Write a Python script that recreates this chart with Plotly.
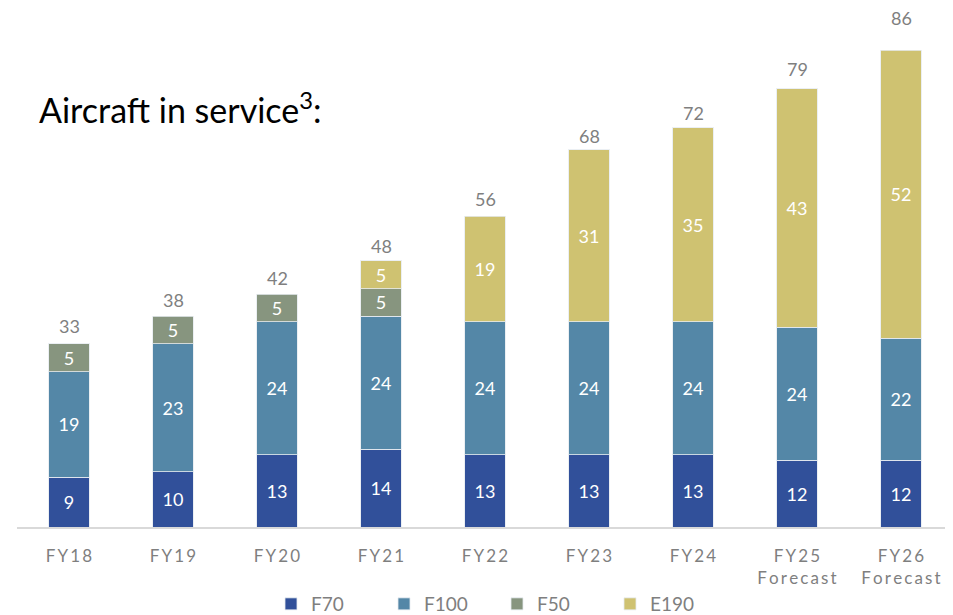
import plotly.graph_objects as go

years = ["FY18", "FY19", "FY20", "FY21", "FY22", "FY23", "FY24", "FY25\nForecast", "FY26\nForecast"]
f70 = [9, 10, 13, 14, 13, 13, 13, 12, 12]
f100 = [19, 23, 24, 24, 24, 24, 24, 24, 22]
f50 = [5, 5, 5, 5, None, None, None, None, None]
e190 = [None, None, None, 5, 19, 31, 35, 43, 52]
totals = [33, 38, 42, 48, 56, 68, 72, 79, 86]

series = [
    ("F70", f70, "#31509A"),
    ("F100", f100, "#5487A7"),
    ("F50", f50, "#87957F"),
    ("E190", e190, "#CFC271"),
]

FONT = "Lato, Carlito, Calibri, sans-serif"

# page body has an 8px margin, so the figure is drawn 8px right and down
W, H = 945, 607
L, PW = 9, 936
PH = 519
UNIT = 477 / 86  # px per aircraft
TOTAL_LABEL_GAP = [5, 3, 3, 2, 4, 1, 2, 7, 19]


def spaced(label):
    # emulate the letter spacing of the category labels
    return "<br>".join("\u2009".join(line) for line in label.split("\n"))


tick_text = [spaced(y) for y in years]
cats = list(range(len(years)))

fig = go.Figure()
for name, vals, col in series:
    fig.add_trace(go.Bar(
        name=name, x=cats, y=vals,
        marker=dict(color=col, line=dict(color="rgba(230,235,240,0.8)", width=1)),
        text=[v if v else "" for v in vals],
        textposition="inside", insidetextanchor="middle", textangle=0,
        textfont=dict(color="white", size=18, family=FONT),
        constraintext="none",
    ))

for x, t, g in zip(cats, totals, TOTAL_LABEL_GAP):
    fig.add_annotation(x=x, y=t, text=str(t), showarrow=False, yanchor="bottom", yshift=g,
                       font=dict(color="#7F7F7F", size=18, family=FONT))

fig.add_annotation(xref="paper", yref="paper", x=(37 - 8 - L) / PW, y=(PH - (108 - 8)) / PH,
                   xanchor="left", yanchor="middle", showarrow=False,
                   text="Aircraft in service<sup>3</sup>:",
                   font=dict(color="#000000", size=34, family=FONT))

fig.update_layout(
    barmode="stack",
    bargap=0.615,
    width=W, height=H,
    margin=dict(l=L, r=W - L - PW, t=0, b=H - PH, autoexpand=False),
    plot_bgcolor="white", paper_bgcolor="white",
    font=dict(family=FONT),
    legend=dict(orientation="h", x=(497 - 8 - L) / PW, xanchor="center",
                y=-(604 - 8 - PH) / PH, yanchor="middle",
                traceorder="normal", entrywidth=68, entrywidthmode="pixels",
                font=dict(color="#7F7F7F", size=19, family=FONT)),
    xaxis=dict(showline=True, linecolor="#D9D9D9", linewidth=1.5, ticks="outside",
               ticklen=13, tickcolor="rgba(0,0,0,0)", range=[-0.5, 8.5],
               tickmode="array", tickvals=cats, ticktext=tick_text,
               tickfont=dict(color="#7F7F7F", size=17, family=FONT)),
    yaxis=dict(range=[0, PH / UNIT], visible=False, showgrid=False),
)

fig.write_html("out.html")
